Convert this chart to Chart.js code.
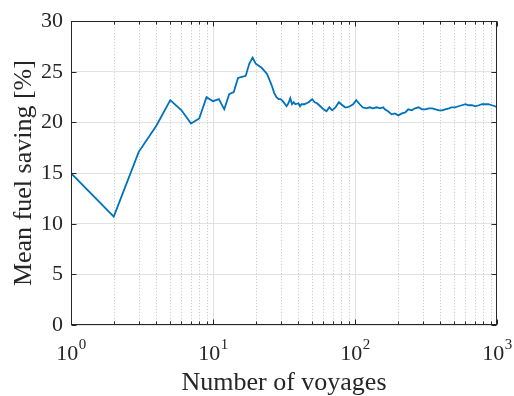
<!DOCTYPE html>
<html>
<head>
<meta charset="utf-8">
<script src="https://cdn.jsdelivr.net/npm/chart.js@4/dist/chart.umd.min.js"></script>
<style>
  html, body { margin: 0; padding: 0; background: #fff; }
  #wrap { width: 514px; height: 396px; }
</style>
</head>
<body>
<div id="wrap"><canvas id="chart"></canvas></div>
<script>
// running mean of fuel saving vs. number of voyages
const voyages = [
  1, 2, 3, 4, 5, 6, 7, 8, 9, 10,
  11, 12, 13, 14, 15, 16, 17, 18, 19, 20,
  21, 22, 23, 24, 25, 26, 27, 28, 29, 30,
  31, 33, 34, 35, 36, 37, 38, 40, 41, 42,
  44, 47, 50, 52, 54, 57, 60, 63, 66, 69,
  73, 77, 80, 85, 88, 92, 97, 102, 108, 113,
  120, 127, 134, 142, 150, 158, 162, 171, 181, 191,
  202, 214, 226, 237, 251, 265, 280, 296, 313, 331,
  349, 369, 390, 412, 431, 459, 478, 507, 535, 566,
  600, 631, 666, 704, 745, 784, 828, 870, 920, 969,
  1000
];
const meanSaving = [
  15.0, 10.7, 17.1, 19.7, 22.2, 21.2, 19.9, 20.4, 22.5, 22.1,
  22.3, 21.3, 22.8, 23.0, 24.4, 24.5, 24.6, 25.8, 26.4, 25.8,
  25.6, 25.4, 25.1, 24.8, 24.2, 23.6, 22.9, 22.5, 22.3, 22.3,
  22.1, 21.6, 21.9, 22.4, 21.8, 22.0, 21.8, 21.9, 21.6, 21.8,
  21.8, 22.0, 22.3, 22.0, 21.9, 21.6, 21.3, 21.1, 21.5, 21.2,
  21.5, 22.0, 21.8, 21.5, 21.5, 21.6, 21.8, 22.2, 21.8, 21.5,
  21.4, 21.5, 21.4, 21.5, 21.4, 21.5, 21.3, 21.1, 20.8, 20.9,
  20.7, 20.9, 21.0, 21.3, 21.2, 21.4, 21.5, 21.3, 21.3, 21.4,
  21.4, 21.3, 21.2, 21.2, 21.3, 21.4, 21.5, 21.5, 21.6, 21.7,
  21.8, 21.7, 21.7, 21.6, 21.7, 21.8, 21.8, 21.8, 21.7, 21.6,
  21.5
];

const xTicks = [1, 10, 100, 1000];
const yTicks = [0, 5, 10, 15, 20, 25, 30];

const FONT = 'Liberation Serif, Times New Roman, serif';
const INK = '#262626';

// MATLAB-style frame: minor/major x grid, inward ticks, box, 10^n labels
const frame = {
  id: 'frame',
  beforeDatasetsDraw(chart) {
    const { ctx, chartArea: a, scales: { x } } = chart;
    ctx.save();
    ctx.lineWidth = 1;
    for (let d = 0; d < xTicks.length - 1; d++) {
      for (let k = 1; k < 10; k++) {
        const v = k * xTicks[d];
        if (v <= xTicks[0]) continue;
        const px = Math.round(x.getPixelForValue(v)) + 0.5;
        if (k === 1) {
          ctx.strokeStyle = '#e2e2e2';
          ctx.setLineDash([]);
        } else {
          ctx.strokeStyle = '#c4c4c4';
          ctx.setLineDash([1, 2]);
        }
        ctx.beginPath();
        ctx.moveTo(px, a.top);
        ctx.lineTo(px, a.bottom);
        ctx.stroke();
      }
    }
    ctx.restore();
  },
  afterDraw(chart) {
    const { ctx, chartArea: a, scales: { x, y } } = chart;
    ctx.save();
    ctx.strokeStyle = INK;
    ctx.lineWidth = 1;
    const L = Math.round(a.left) + 0.5, R = Math.round(a.right) - 0.5;
    const T = Math.round(a.top) + 0.5, B = Math.round(a.bottom) - 0.5;
    ctx.strokeRect(L, T, R - L, B - T);

    // x ticks, top and bottom
    ctx.beginPath();
    for (let d = 0; d < xTicks.length; d++) {
      for (let k = 1; k < 10; k++) {
        const v = k * xTicks[d];
        if (v > xTicks[xTicks.length - 1]) break;
        const px = Math.round(x.getPixelForValue(v)) + 0.5;
        const len = k === 1 ? 5 : 3;
        ctx.moveTo(px, B); ctx.lineTo(px, B - len);
        ctx.moveTo(px, T); ctx.lineTo(px, T + len);
      }
    }
    // y ticks, left and right
    yTicks.forEach(v => {
      const py = Math.round(y.getPixelForValue(v)) + 0.5;
      ctx.moveTo(L, py); ctx.lineTo(L + 5, py);
      ctx.moveTo(R, py); ctx.lineTo(R - 5, py);
    });
    ctx.stroke();

    // 10^n labels
    ctx.fillStyle = INK;
    ctx.textBaseline = 'alphabetic';
    xTicks.forEach(v => {
      const base = '10';
      const exp = String(Math.round(Math.log10(v)));
      ctx.font = '22px ' + FONT;
      const wb = ctx.measureText(base).width;
      ctx.font = '15px ' + FONT;
      const we = ctx.measureText(exp).width;
      const px = x.getPixelForValue(v);
      const x0 = px - (wb + we) / 2;
      ctx.font = '22px ' + FONT;
      ctx.textAlign = 'left';
      ctx.fillText(base, x0, 360);
      ctx.font = '15px ' + FONT;
      ctx.fillText(exp, x0 + wb + 0.5, 349);
    });
    ctx.restore();
  }
};

new Chart(document.getElementById('chart'), {
  type: 'line',
  data: {
    datasets: [{
      data: voyages.map((v, i) => ({ x: v, y: meanSaving[i] })),
      borderColor: '#0072BD',
      borderWidth: 1.8,
      pointRadius: 0,
      tension: 0,
      fill: false
    }]
  },
  options: {
    responsive: true,
    maintainAspectRatio: false,
    animation: false,
    layout: { padding: { top: 15, right: 17, bottom: 0, left: 0 } },
    plugins: { legend: { display: false }, tooltip: { enabled: false } },
    scales: {
      x: {
        type: 'logarithmic',
        min: 1,
        max: 1000,
        grid: { display: false },
        border: { display: false },
        ticks: { display: false },
        title: {
          display: true,
          text: 'Number of voyages',
          color: INK,
          font: { family: FONT, size: 26, lineHeight: 1 },
          padding: { top: 0, bottom: 0 }
        },
        afterFit(scale) { scale.height = 71; }
      },
      y: {
        min: 0,
        max: 30,
        grid: { color: '#e2e2e2', drawTicks: false },
        border: { display: false },
        ticks: {
          stepSize: 5,
          padding: 8,
          color: INK,
          font: { family: FONT, size: 22 }
        },
        title: {
          display: true,
          text: 'Mean fuel saving [%]',
          color: INK,
          font: { family: FONT, size: 26, lineHeight: 1 },
          padding: { top: 11, bottom: 0 }
        },
        afterFit(scale) { scale.width = 71; }
      }
    }
  },
  plugins: [frame]
});
</script>
</body>
</html>
